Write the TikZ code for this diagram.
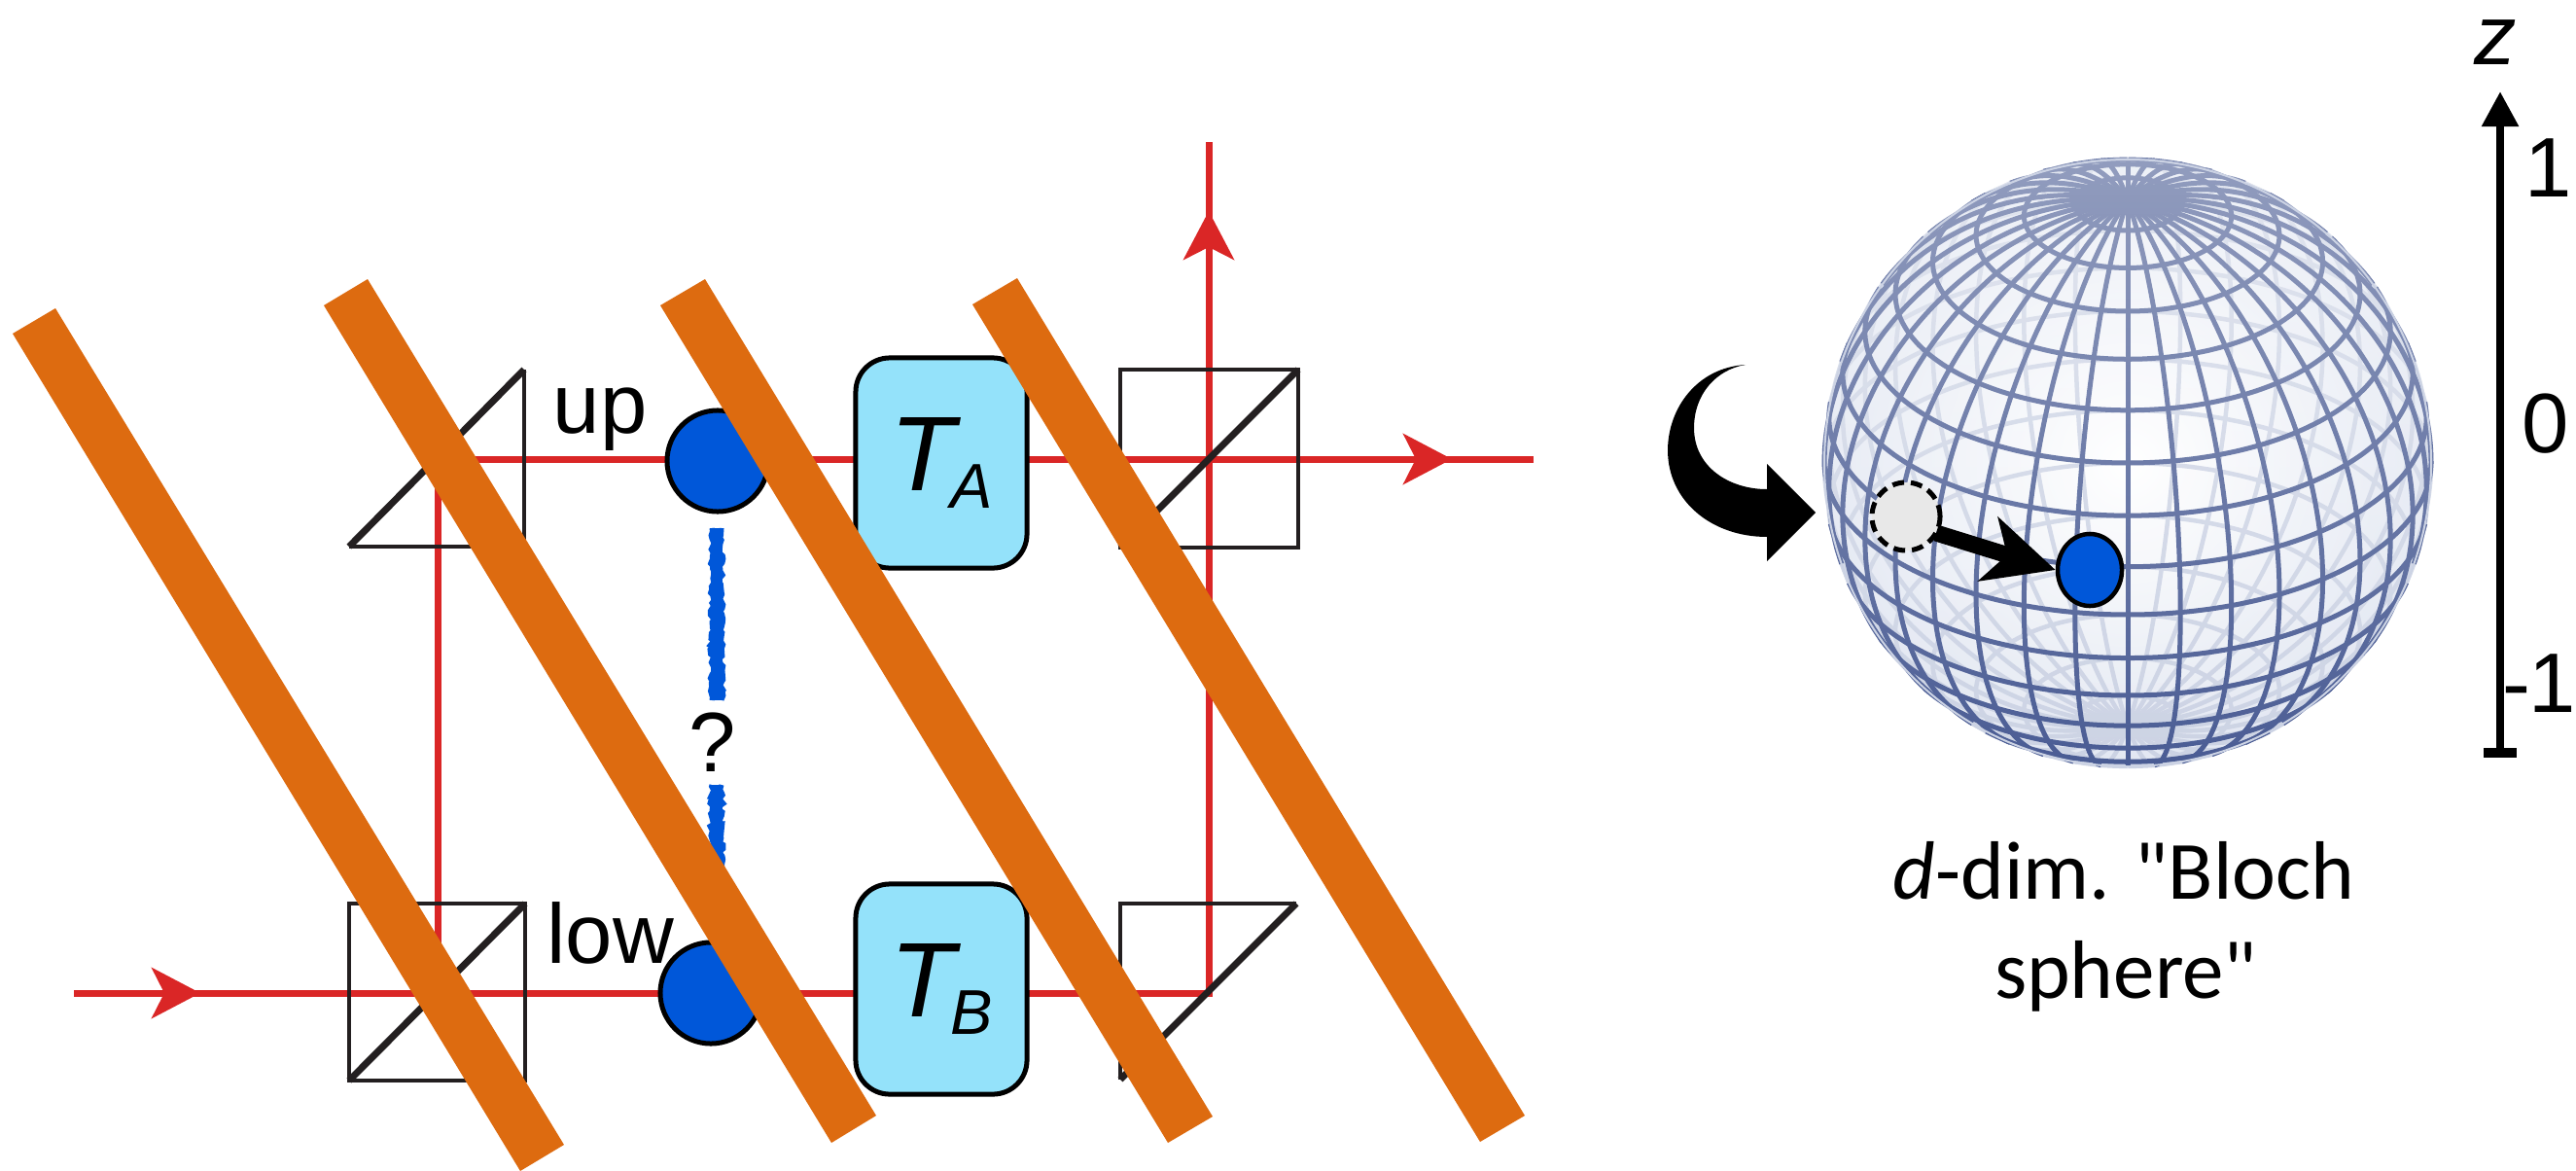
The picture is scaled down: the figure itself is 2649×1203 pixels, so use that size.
\documentclass[tikz,border=0pt]{standalone}
\usepackage{fontspec}
\setmainfont{Liberation Sans}
\newfontfamily\capfont{Carlito}
\usetikzlibrary{arrows.meta,decorations.pathmorphing,calc,shapes.geometric,fadings}

\definecolor{beamred}{RGB}{218,38,38}
\definecolor{barorange}{RGB}{221,107,16}
\definecolor{dotblue}{RGB}{0,87,217}
\definecolor{boxcyan}{RGB}{148,226,250}
\definecolor{optblack}{RGB}{35,31,32}
\definecolor{gridfront}{RGB}{74,92,148}
\definecolor{gridback}{RGB}{204,211,228}
\definecolor{sphereedge}{RGB}{226,231,242}
\definecolor{ghostgrey}{RGB}{232,232,232}

\newcommand{\lblfont}{\fontsize{24.7pt}{29pt}\selectfont}
\newcommand{\tfont}{\fontsize{31pt}{36pt}\selectfont}
\newcommand{\tsubfont}{\fontsize{18.5pt}{22pt}\selectfont}
\newcommand{\capsize}{\fontsize{24.2pt}{29pt}\selectfont}

% soft highlight over the upper part of the sphere
\tikzfading[name=sphereglow, top color=transparent!60,
  middle color=transparent!100, bottom color=transparent!100]

\begin{document}
\begin{tikzpicture}[x=0.01cm,y=-0.01cm,
  beam/.style={draw=beamred, line width=0.07cm},
  beamtip/.style={draw=beamred, fill=beamred, line width=0.07cm,
    -{Stealth[length=0.5cm,width=0.52cm,inset=0.13cm]}},
  bsthin/.style={draw=optblack, line width=0.04cm},
  bsthick/.style={draw=optblack, line width=0.07cm},
  qubit/.style={circle, draw=black, line width=0.05cm, fill=dotblue,
    minimum size=1.04cm, inner sep=0pt},
  tbox/.style={draw=black, line width=0.05cm, fill=boxcyan,
    rounded corners=0.35cm, minimum width=1.76cm, minimum height=2.16cm,
    inner sep=0pt},
  bar/.style={fill=barorange},
  lbl/.style={font=\lblfont, inner sep=0pt},
  qline/.style={draw=dotblue, line width=0.12cm},
  qrough/.style={draw=dotblue, line width=0.05cm, decorate,
    decoration={random steps, segment length=0.035cm, amplitude=0.02cm}},
  gfront/.style={draw=gridfront, line width=0.05cm},
  gback/.style={draw=gridback, line width=0.045cm},
]
\useasboundingbox (0,0) rectangle (2649,1203);
\fill[white] (0,0) rectangle (2649,1203);
\pgfmathsetseed{7}

% ---------------- interferometer: beam path ----------------
\coordinate (src)  at (76,1021);
\coordinate (bsLL) at (450,1021);
\coordinate (mUL)  at (450,472);
\coordinate (bsUR) at (1243,472);
\coordinate (mLR)  at (1243,1021);
\coordinate (outR) at (1577,472);
\coordinate (outU) at (1243,146);

\draw[beam] (src) -- (mLR) -- (outU);
\draw[beam] (bsLL) -- (mUL) -- (outR);
\draw[beamtip] (150,1021) -- (206,1021);
\draw[beamtip] (1440,472) -- (1493,472);
\draw[beamtip] (1243,268) -- (1243,217);

% ---------------- beam splitters and mirrors ----------------
\draw[bsthin] (359,562) -- (539,562) -- (539,380);
\draw[bsthick] (359,562) -- (539,380);
\draw[bsthin] (359,929) rectangle (540,1111);
\draw[bsthick] (359,1111) -- (540,929);
\draw[bsthin] (1152,380) rectangle (1335,563);
\draw[bsthick] (1152,563) -- (1335,380);
\draw[bsthin] (1152,1110) -- (1152,929) -- (1333,929);
\draw[bsthick] (1152,1110) -- (1333,929);

% ---------------- path labels, qubits, transformations ----------------
\node[lbl, anchor=base west] (lup) at (568,445) {up};
\node[lbl, anchor=base west] (llow) at (562,990) {low};
\node[qubit] (qup) at (738,474) {};
\node[qubit] (qlow) at (731,1021) {};
\node[tbox] (ta) at (968,476) {\tfont\itshape T\kern-0.04em\raisebox{-0.16em}{\tsubfont A}};
\node[tbox] (tb) at (968,1017) {\tfont\itshape T\kern-0.04em\raisebox{-0.16em}{\tsubfont B}};

% entanglement question between the two paths
\coordinate (q1a) at (737,543);
\coordinate (q1b) at (737,720);
\coordinate (q2a) at (737,807);
\coordinate (q2b) at (737,955);
\draw[qline] (q1a) -- (q1b);
\draw[qrough] ($(q1a)+(-5,0)$) -- ($(q1b)+(-5,0)$);
\draw[qrough] ($(q1a)+(5,0)$) -- ($(q1b)+(5,0)$);
\draw[qline] (q2a) -- (q2b);
\draw[qrough] ($(q2a)+(-5,0)$) -- ($(q2b)+(-5,0)$);
\draw[qrough] ($(q2a)+(5,0)$) -- ($(q2b)+(5,0)$);
\node[lbl, anchor=base] (qm) at (733,793) {?};

% ---------------- slanted bars ----------------
\fill[bar] (13,343) -- (57,317) -- (580,1177) -- (535,1204) -- cycle;
\fill[bar] (333,314) -- (378,287) -- (901,1147) -- (855,1175) -- cycle;
\fill[bar] (679,314) -- (725,287) -- (1247,1148) -- (1201,1175) -- cycle;
\fill[bar] (1000,313) -- (1046,286) -- (1568,1147) -- (1522,1174) -- cycle;

% ---------------- curved arrow into the sphere ----------------
\fill[black] (1795,375) .. controls (1745,378) and (1715,420) .. (1715,463)
  .. controls (1715,515) and (1760,552) .. (1817,552)
  -- (1817,577) -- (1867,527) -- (1817,477) -- (1817,503)
  .. controls (1778,503) and (1742,480) .. (1742,440)
  .. controls (1742,405) and (1765,380) .. (1795,375) -- cycle;

% ---------------- wireframe sphere ----------------
\def\el{30}
\begin{scope}[shift={(2188,476)}, yscale=-1]
  \shade[inner color=white, outer color=sphereedge] (0,0) circle (312);
  % hidden half of the grid
  \foreach \p in {0,10,...,350}{
    \pgfmathsetmacro{\tz}{atan(-cos(\p)/tan(\el))}
    \draw[gback] plot[domain=-90:\tz, samples=24, smooth, variable=\t]
      ({312*cos(\t)*sin(\p)},{312*(sin(\t)*cos(\el)-cos(\t)*cos(\p)*sin(\el))});
  }
  \foreach \th in {-80,-70,...,80}{
    \pgfmathsetmacro{\cc}{max(-1,min(1,-tan(\th)*tan(\el)))}
    \pgfmathsetmacro{\pz}{acos(\cc)}
    \pgfmathtruncatemacro{\hasback}{\pz<179 ? 1 : 0}
    \ifnum\hasback=1
      \draw[gback] plot[domain=\pz:360-\pz, samples=40, smooth, variable=\f]
        ({312*cos(\th)*sin(\f)},{312*(sin(\th)*cos(\el)-cos(\th)*cos(\f)*sin(\el))});
    \fi
  }
  % visible half of the grid
  \foreach \p in {0,10,...,350}{
    \pgfmathsetmacro{\tz}{atan(-cos(\p)/tan(\el))}
    \draw[gfront] plot[domain=\tz:90, samples=30, smooth, variable=\t]
      ({312*cos(\t)*sin(\p)},{312*(sin(\t)*cos(\el)-cos(\t)*cos(\p)*sin(\el))});
  }
  \foreach \th in {-80,-70,...,80}{
    \pgfmathsetmacro{\cc}{max(-1,min(1,-tan(\th)*tan(\el)))}
    \pgfmathsetmacro{\pz}{acos(\cc)}
    \pgfmathtruncatemacro{\hasfront}{\pz>1 ? 1 : 0}
    \ifnum\hasfront=1
      \draw[gfront] plot[domain=-\pz:\pz, samples=40, smooth, variable=\f]
        ({312*cos(\th)*sin(\f)},{312*(sin(\th)*cos(\el)-cos(\th)*cos(\f)*sin(\el))});
    \fi
  }
  \fill[white, path fading=sphereglow] (0,0) circle (314);
  \draw[gridback, line width=0.02cm] (0,0) circle (312);
\end{scope}

% state before and after the transformation
\node[circle, draw=black, dash pattern=on 0.12cm off 0.07cm,
  line width=0.05cm, fill=ghostgrey, minimum size=0.7cm, inner sep=0pt]
  (sold) at (1960,531) {};
\node[ellipse, draw=black, line width=0.045cm, fill=dotblue,
  minimum width=0.66cm, minimum height=0.74cm, inner sep=0pt]
  (snew) at (2149,586) {};
\coordinate (sa) at (1991,548);
\draw[line width=0.17cm, -{Stealth[length=0.72cm,width=0.68cm,inset=0.2cm]}]
  (sa) -- (snew.west);

% ---------------- z axis ----------------
\coordinate (zlo) at (2571,774);
\coordinate (zhi) at (2571,94);
\draw[line width=0.085cm, -{Triangle[length=0.36cm,width=0.36cm]}] (zlo) -- (zhi);
\draw[line width=0.1cm] (2554,774) -- (2588,774);
\node[lbl, anchor=base] (zl) at (2566,67) {\itshape z};
\node[lbl, anchor=base west] (z1) at (2596,202) {1};
\node[lbl, anchor=base west] (z0) at (2593,465) {0};
\node[lbl, anchor=base west] (zm) at (2573,732) {-\kern-0.03em1};

% ---------------- caption ----------------
\node[font=\capfont\capsize, anchor=base, inner sep=0pt] (cap1) at (2184,924)
  {\textit{d}-dim. "Bloch};
\node[font=\capfont\capsize, anchor=base, inner sep=0pt] (cap2) at (2186,1026)
  {sphere"};
\end{tikzpicture}
\end{document}
